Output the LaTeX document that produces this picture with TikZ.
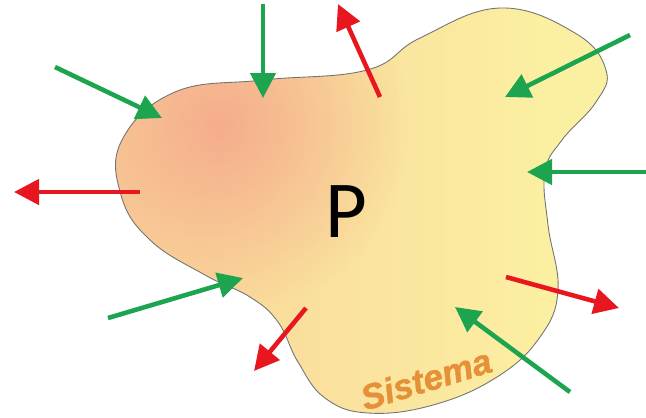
\documentclass[tikz,border=0pt]{standalone}
\usepackage{fontspec}
\usetikzlibrary{arrows.meta,fadings}
\newfontfamily\carlito{Carlito}
\newfontfamily\sisfont[FakeBold=1.2]{Liberation Sans Bold Italic}
\definecolor{ingreen}{RGB}{28,164,78}
\definecolor{outred}{RGB}{232,22,30}
\definecolor{blobleft}{RGB}{249,204,150}
\definecolor{blobright}{RGB}{251,240,162}
\definecolor{blobspot}{RGB}{245,172,140}
\definecolor{sisorange}{RGB}{230,144,56}
\tikzfading[name=spotfade,inner color=transparent!0,outer color=transparent!100]

\begin{document}
\begin{tikzpicture}[x=0.2mm,y=-0.2mm,
    inflow/.style={draw=ingreen,line width=2.6pt,-{Triangle[length=5mm,width=5mm]}},
    outflow/.style={draw=outred,line width=2.6pt,-{Triangle[length=5mm,width=5mm]}}]
  % Frame (fixes the margins)
  \useasboundingbox (0,0) rectangle (646,417);

  % Outline of the system
  \def\blob{plot[smooth cycle,tension=0.7] coordinates {
      (175,92) (263,80) (367,70) (420,38) (500,8) (575,33) (606,70)
      (596,102) (562,140) (545,172) (548,225) (558,290) (540,337)
      (497,377) (433,405) (368,413) (325,398) (298,362) (278,322)
      (250,297) (205,275) (150,240) (121,195) (122,140)}}

  % Fill: peach on the left, pale yellow on the right, salmon top left
  \begin{scope}
    \clip \blob;
    \fill[blobright] (0,0) rectangle (646,417);
    \shade[left color=blobleft,right color=blobright] (0,0) rectangle (560,417);
    \fill[blobspot,path fading=spotfade] (220,125) circle (38mm);
  \end{scope}
  \draw[black!55,line width=0.5pt] \blob;

  % Labels
  \node (p) at (346,212) {\carlito\fontsize{46}{46}\selectfont P};
  \node[rotate=17,text=sisorange] (sis) at (426,379)
    {\sisfont\fontsize{20}{20}\selectfont Sistema};

  % Inflows (green)
  \coordinate (in1a) at (55,67);   \coordinate (in1b) at (162,118);
  \coordinate (in2a) at (263,4);   \coordinate (in2b) at (263,98);
  \coordinate (in3a) at (630,35);  \coordinate (in3b) at (505,97);
  \coordinate (in4a) at (646,172); \coordinate (in4b) at (527,172);
  \coordinate (in5a) at (108,318); \coordinate (in5b) at (243,278);
  \coordinate (in6a) at (570,392); \coordinate (in6b) at (455,307);

  % Outflows (red)
  \coordinate (out1a) at (380,97);  \coordinate (out1b) at (338,4);
  \coordinate (out2a) at (140,192); \coordinate (out2b) at (14,192);
  \coordinate (out3a) at (506,277); \coordinate (out3b) at (619,308);
  \coordinate (out4a) at (306,308); \coordinate (out4b) at (254,371);

  \foreach \i in {1,...,6}
    \draw[inflow] (in\i a) -- (in\i b);
  \foreach \i in {1,...,4}
    \draw[outflow] (out\i a) -- (out\i b);

\end{tikzpicture}
\end{document}
